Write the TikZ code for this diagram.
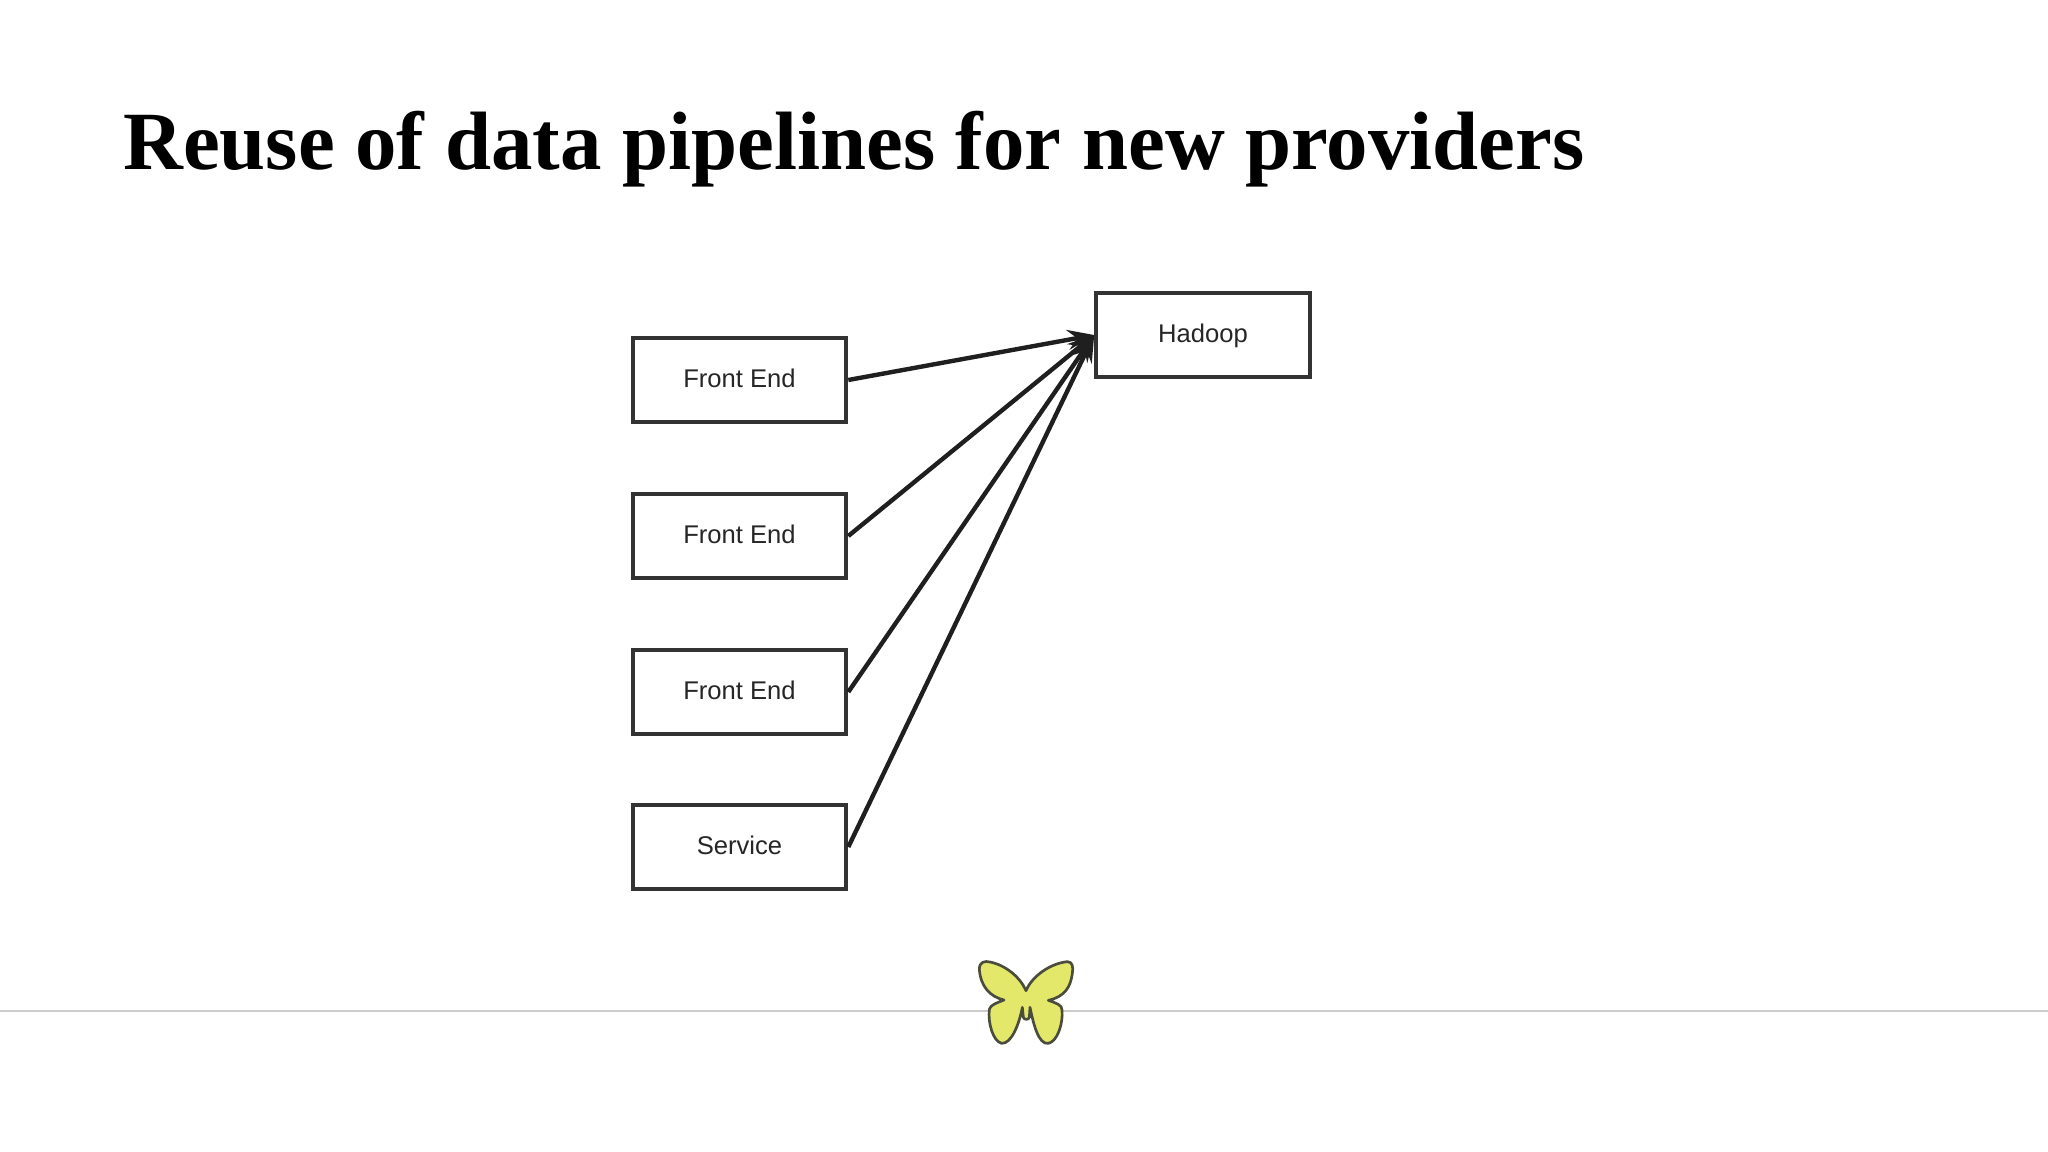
\documentclass[tikz,border=0pt]{standalone}
\usepackage{fontspec}
\setmainfont{Liberation Sans}
\newfontfamily\titlefont{Liberation Serif}
\usetikzlibrary{arrows.meta}
\definecolor{boxline}{HTML}{333333}
\definecolor{wing}{HTML}{E3E86B}
\definecolor{wingline}{HTML}{4A4C3C}
\definecolor{rulegray}{HTML}{CCCCCC}
\tikzset{
  px/.style={x=0.75pt,y=-0.75pt},
  pipebox/.style={draw=boxline,line width=3.2pt,fill=white,minimum width=160pt,minimum height=63.5pt,inner sep=0pt,text=black!85,text height=15pt,text depth=3.5pt,font=\fontsize{19.2pt}{22pt}\selectfont},
  feed/.style={draw=black!88,line width=3.3pt,-{Stealth[length=20pt,width=15pt,inset=7pt]}},
  titletext/.style={anchor=base west,inner sep=0pt,font=\titlefont\bfseries\fontsize{60pt}{66pt}\selectfont}
}
\begin{document}
\begin{tikzpicture}[px]
\useasboundingbox (0,0) rectangle (2048,1152);
\fill[white] (0,0) rectangle (2048,1152);
\node[titletext] (title) at (123,170) {\resizebox{1096pt}{!}{Reuse of data pipelines for new providers}};
\node[pipebox] (fe1) at (739.5,380) {Front End};
\node[pipebox] (fe2) at (739.5,536) {Front End};
\node[pipebox] (fe3) at (739.5,692) {Front End};
\node[pipebox] (svc) at (739.5,847) {Service};
\node[pipebox] (hadoop) at (1203,335) {Hadoop};
\draw[feed] (fe1.east) -- (hadoop.west);
\draw[feed] (fe2.east) -- (hadoop.west);
\draw[feed] (fe3.east) -- (hadoop.west);
\draw[feed] (svc.east) -- (hadoop.west);
\draw[rulegray,line width=1.5pt] (0,1011) -- (2048,1011);
\begin{scope}[shift={(940,930)},x=0.25pt,y=-0.25pt]
\draw[fill=wing,draw=wingline,line width=2pt,line join=round]
 (258,182)
 .. controls (275,140) and (330,100) .. (382,95)
 .. controls (398,95) and (400,112) .. (397,130)
 .. controls (392,170) and (375,200) .. (325,211)
 .. controls (345,218) and (368,225) .. (366,240)
 .. controls (370,280) and (352,335) .. (325,340)
 .. controls (295,345) and (280,280) .. (270,232)
 -- (268,262) .. controls (266,270) and (252,270) .. (250,262)
 -- (247,232)
 .. controls (238,280) and (215,342) .. (185,340)
 .. controls (160,335) and (143,280) .. (148,238)
 .. controls (150,225) and (172,218) .. (192,210)
 .. controls (150,200) and (122,170) .. (118,118)
 .. controls (118,95) and (135,92) .. (150,96)
 .. controls (195,105) and (240,140) .. (258,182)
 -- cycle;
\end{scope}
\end{tikzpicture}
\end{document}
